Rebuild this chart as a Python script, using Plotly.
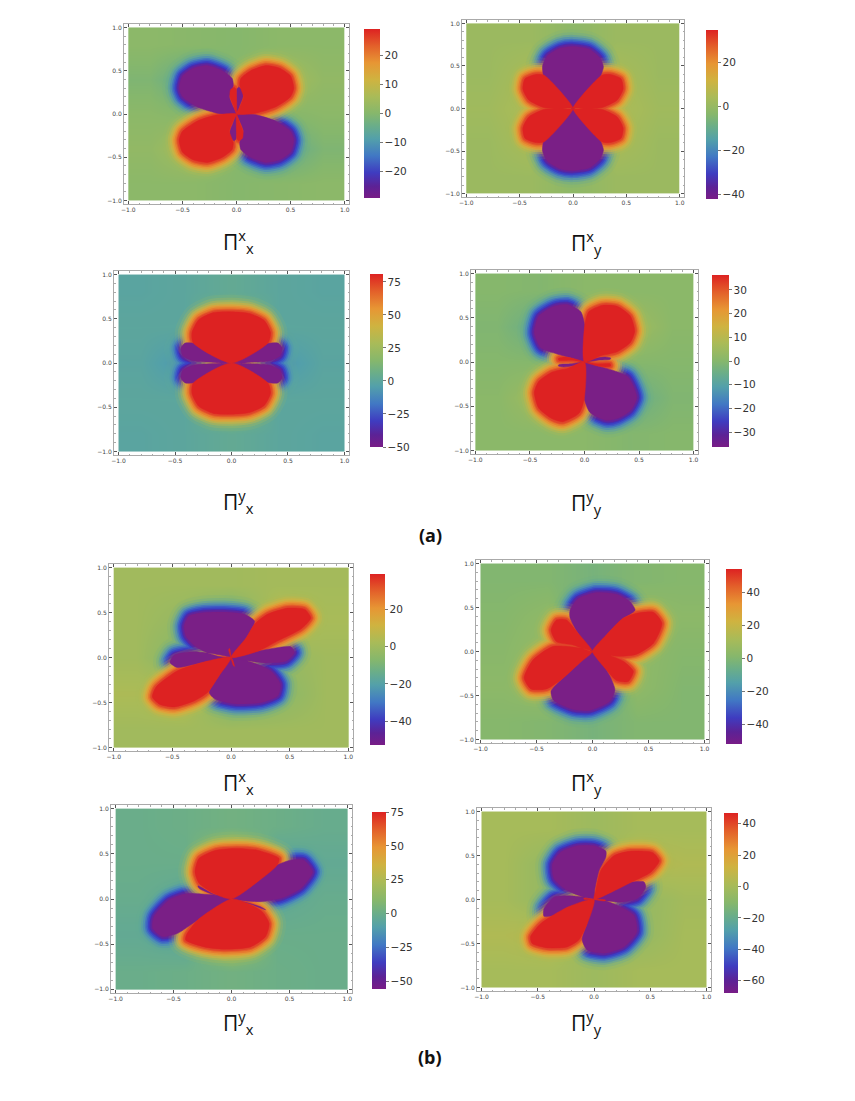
"""Eight Pi tensor component maps with separate colour bars."""

import plotly.graph_objects as go

PAGE_MARGIN = 8  # the browser's default body margin
WIDTH, HEIGHT = 855 - PAGE_MARGIN, 1101 - PAGE_MARGIN
GRID_EDGES = [-1.0, -0.6, -0.2, 0.2, 0.6, 1.0]
AXIS_TICKS = [-1.0, -0.5, 0.0, 0.5, 1.0]

RAINBOW = [
    [0.0, "#781c86"], [0.07, "#5c2296"], [0.15, "#3f3cc0"], [0.25, "#4178c4"],
    [0.35, "#53a0aa"], [0.43, "#6bae88"], [0.5, "#86b76c"], [0.6, "#a9bb58"],
    [0.7, "#cfb340"], [0.8, "#e79634"], [0.9, "#e3602a"], [1.0, "#dd2222"],
]

# background field, rows from y=-0.8 up to y=0.8
BG_1 = [[1, 1, 0, 0.5, 1], [2, 6, 0, -6, -1], [1, 0, 0, 0, 1], [-1, -6, 0, 6, 2], [1, 0.5, 0, 1, 1]]
BG_2 = [[1, 1, -2, 1, 1], [1, 4, -12, 4, 1], [2, 5, 0, 5, 2], [1, 4, -12, 4, 1], [1, 1, -2, 1, 1]]
BG_3 = [[-1, 0, 3, 0, -1], [0, 0, 22, 0, 0], [-1, -8, 0, -8, -1], [0, 0, 22, 0, 0], [-1, 0, 3, 0, -1]]
BG_4 = [[1, 1, 1, -0.5, 0], [1, 6, 0, -6, -1], [0, 0, 0, 0, 0], [-1, -6, 0, 6, 1], [0, -0.5, 1, 1, 1]]
BG_5 = [[0, 0, 0, 0, 0], [3, 6, -12, -6, 0], [0, -8, 0, -3, 0], [0, -3, -12, 6, 2], [0, 0, 0, 1, 1]]
BG_6 = [[1, 0, -3, 0, 0], [3, 6, -12, 4, 0], [2, 6, 0, 4, 1], [1, 4, -12, 6, 3], [0, 0, -3, 0, 1]]
BG_7 = [[0, 1, 3, 1, 0], [-3, -6, 24, 0, 0], [-1, -4, 0, -4, -1], [0, 0, 24, -6, -3], [0, 1, 3, 1, -1]]
BG_8 = [[0, 0, -3, 0, 0], [3, 6, -8, -6, 0], [0, -6, 0, -6, -1], [0, -6, -8, 6, 3], [0, 0, -3, 0, 0]]

# lobe outlines, (x, y) in axis units
RED_1 = [
    [(0, 0), (.18, .01), (.36, .08), (.5, .2), (.53, .3), (.5, .44), (.4, .53), (.27, .56), (.13, .5), (.04, .41), (.03, .33), (.065, .2), (.03, .08), (0, 0)],
    [(0, 0), (-.18, -.01), (-.36, -.08), (-.5, -.2), (-.53, -.3), (-.5, -.44), (-.4, -.53), (-.27, -.56), (-.13, -.5), (-.04, -.41), (-.03, -.33), (-.065, -.2), (-.03, -.08), (0, 0)],
    [(0, 0), (-.03, .1), (-.06, .2), (-.055, .28), (-.02, .31), (-.005, .29), (0, .2), (0, 0)],
    [(0, 0), (.03, -.1), (.06, -.2), (.055, -.28), (.02, -.31), (.005, -.29), (0, -.2), (0, 0)],
]
PURPLE_1 = [
    [(0, 0), (-.18, .01), (-.36, .08), (-.5, .2), (-.53, .3), (-.5, .44), (-.4, .53), (-.27, .56), (-.13, .5), (-.04, .41), (-.03, .33), (-.065, .2), (-.03, .08), (0, 0)],
    [(0, 0), (.18, -.01), (.36, -.08), (.5, -.2), (.53, -.3), (.5, -.44), (.4, -.53), (.27, -.56), (.13, -.5), (.04, -.41), (.03, -.33), (.065, -.2), (.03, -.08), (0, 0)],
    [(0, 0), (.03, .1), (.06, .2), (.055, .28), (.02, .31), (.005, .29), (0, .2), (0, 0)],
    [(0, 0), (-.03, -.1), (-.06, -.2), (-.055, -.28), (-.02, -.31), (-.005, -.29), (0, -.2), (0, 0)],
]
RED_2 = [
    [(0, 0), (-.27, .39), (-.35, .4), (-.45, .35), (-.47, .23), (-.415, .1), (-.275, .012), (-.12, 0), (0, 0)],
    [(0, 0), (.27, .39), (.35, .4), (.45, .35), (.47, .23), (.415, .1), (.275, .012), (.12, 0), (0, 0)],
    [(0, 0), (-.27, -.39), (-.35, -.4), (-.45, -.35), (-.47, -.23), (-.415, -.1), (-.275, -.012), (-.12, 0), (0, 0)],
    [(0, 0), (.27, -.39), (.35, -.4), (.45, -.35), (.47, -.23), (.415, -.1), (.275, -.012), (.12, 0), (0, 0)],
]
PURPLE_2 = [
    [(0, 0), (-.13, .17), (-.275, .39), (-.285, .5), (-.24, .62), (-.12, .71), (0, .73), (.15, .7), (.25, .6), (.285, .49), (.26, .39), (0, 0)],
    [(0, 0), (-.13, -.17), (-.275, -.39), (-.285, -.5), (-.24, -.62), (-.12, -.71), (0, -.73), (.15, -.7), (.25, -.6), (.285, -.49), (.26, -.39), (0, 0)],
]
RED_3 = [
    [(0, 0), (-.34, .23), (-.35, .345), (-.29, .49), (-.16, .57), (0, .58), (.16, .56), (.29, .48), (.345, .345), (.325, .23), (0, 0)],
    [(0, 0), (-.34, -.23), (-.35, -.345), (-.29, -.49), (-.16, -.57), (0, -.58), (.16, -.56), (.29, -.48), (.345, -.345), (.325, -.23), (0, 0)],
]
PURPLE_3 = [
    [(0, 0), (-.325, .22), (-.41, .225), (-.447, .17), (-.43, .08), (-.34, .026), (-.16, .007), (0, 0)],
    [(0, 0), (.325, .22), (.41, .225), (.447, .17), (.43, .08), (.34, .026), (.16, .007), (0, 0)],
    [(0, 0), (-.325, -.22), (-.41, -.225), (-.447, -.17), (-.43, -.08), (-.34, -.026), (-.16, -.007), (0, 0)],
    [(0, 0), (.325, -.22), (.41, -.225), (.447, -.17), (.43, -.08), (.34, -.026), (.16, -.007), (0, 0)],
]
RED_4 = [
    [(0, 0), (.15, .07), (.3, .115), (.42, .22), (.46, .35), (.42, .52), (.3, .63), (.16, .64), (.04, .57), (.003, .42), (0, 0)],
    [(0, 0), (-.15, -.07), (-.3, -.115), (-.42, -.22), (-.46, -.345), (-.42, -.52), (-.3, -.64), (-.2, -.675), (-.05, -.58), (-.003, -.42), (0, 0)],
    [(0, 0), (-.12, .02), (-.235, .02), (-.24, .04), (-.2, .055), (-.12, .045), (0, 0)],
    [(0, 0), (.12, -.02), (.235, -.02), (.24, -.045), (.2, -.055), (.12, -.045), (0, 0)],
]
PURPLE_4 = [
    [(0, 0), (-.13, .05), (-.25, .09), (-.4, .16), (-.46, .33), (-.42, .52), (-.28, .63), (-.16, .65), (-.035, .57), (0, .42), (-.005, .16), (0, 0)],
    [(0, 0), (.13, -.05), (.25, -.09), (.4, -.17), (.48, -.4), (.42, -.55), (.3, -.64), (.2, -.66), (.05, -.57), (0, -.42), (.005, -.16), (0, 0)],
    [(0, 0), (.12, .02), (.235, .03), (.24, .045), (.2, .055), (.12, .045), (0, 0)],
    [(0, 0), (-.12, -.02), (-.235, -.03), (-.24, -.045), (-.2, -.055), (-.12, -.045), (0, 0)],
]
RED_5 = [
    [(0, 0), (.23, .07), (.4, .185), (.6, .32), (.68, .44), (.63, .535), (.485, .55), (.31, .48), (.2, .37), (.13, .22), (0, 0)],
    [(0, 0), (-.23, -.05), (-.46, -.15), (-.64, -.33), (-.67, -.44), (-.61, -.52), (-.485, -.55), (-.31, -.48), (-.2, -.39), (-.1, -.2), (0, 0)],
    [(0, 0), (-.02, .09), (-.012, .1), (0, 0)],
    [(0, 0), (.02, -.09), (.03, -.1), (.012, -.02), (0, 0)],
]
PURPLE_5 = [
    [(0, 0), (-.2, .05), (-.31, .13), (-.385, .24), (-.4, .35), (-.36, .46), (-.23, .5), (-.06, .505), (.115, .48), (.2, .405), (.13, .22), (0, 0)],
    [(0, 0), (-.2, .05), (-.34, .063), (-.485, .026), (-.52, -.055), (-.46, -.11), (-.23, -.05), (0, 0)],
    [(0, 0), (.23, .07), (.51, .12), (.54, .055), (.47, -.04), (.29, -.06), (.14, -.035), (0, 0)],
    [(0, 0), (.17, -.05), (.34, -.15), (.42, -.295), (.4, -.425), (.26, -.5), (.03, -.515), (-.14, -.46), (-.185, -.39), (-.1, -.2), (0, 0)],
]
RED_6 = [
    [(0, 0), (.125, .19), (.275, .38), (.395, .435), (.545, .445), (.62, .32), (.545, .095), (.395, -.03), (.245, -.055), (.1, -.03), (0, 0)],
    [(0, 0), (-.145, .045), (-.355, .057), (-.53, -.095), (-.61, -.3), (-.55, -.425), (-.41, -.425), (-.26, -.3), (-.115, -.13), (0, 0)],
    [(0, 0), (-.175, .075), (-.32, .11), (-.37, .245), (-.32, .36), (-.235, .36), (-.13, .21), (0, 0)],
    [(0, 0), (.125, -.03), (.275, -.11), (.365, -.225), (.32, -.34), (.215, -.33), (.125, -.21), (0, 0)],
]
PURPLE_6 = [
    [(0, 0), (-.2, .38), (-.2, .47), (-.13, .6), (.035, .67), (.215, .65), (.335, .565), (.38, .47), (.275, .38), (.125, .19), (0, 0)],
    [(0, 0), (-.115, -.13), (-.26, -.3), (-.37, -.45), (-.35, -.55), (-.17, -.66), (-.025, -.67), (.155, -.565), (.2, -.435), (.155, -.28), (0, 0)],
]
RED_7 = [
    [(0, 0), (-.15, .06), (-.28, .175), (-.315, .3), (-.28, .45), (-.135, .54), (.05, .56), (.225, .54), (.41, .45), (.395, .375), (.225, .19), (0, 0)],
    [(0, 0), (-.29, -.23), (-.39, -.4), (-.395, -.455), (-.235, -.53), (-.065, -.555), (.165, -.53), (.295, -.415), (.325, -.27), (.265, -.14), (.14, -.05), (0, 0)],
]
PURPLE_7 = [
    [(0, 0), (.225, .19), (.395, .375), (.51, .43), (.625, .43), (.7, .3), (.6, .12), (.425, .007), (.25, -.03), (.11, -.018), (0, 0)],
    [(0, 0), (-.38, .06), (-.54, -.01), (-.67, -.195), (-.68, -.325), (-.595, -.415), (-.465, -.38), (-.29, -.23), (0, 0)],
    [(0, 0), (-.15, .05), (-.29, .145), (-.28, .118), (-.18, .06), (0, 0)],
    [(0, 0), (.15, -.05), (.295, -.12), (.25, -.085), (0, 0)],
]
RED_8 = [
    [(0, 0), (.15, .08), (.33, .195), (.505, .31), (.58, .44), (.52, .535), (.33, .55), (.18, .5), (.06, .33), (.015, .1), (0, 0)],
    [(0, 0), (-.24, -.09), (-.475, -.275), (-.565, -.425), (-.55, -.5), (-.415, -.55), (-.24, -.54), (-.135, -.46), (-.06, -.275), (0, 0)],
    [(0, 0), (-.09, .015), (-.09, .004), (0, 0)],
    [(0, 0), (.1, -.004), (.1, -.016), (0, 0)],
]
PURPLE_8 = [
    [(0, 0), (-.135, .045), (-.25, .11), (-.355, .235), (-.37, .4), (-.3, .535), (-.15, .61), (0, .61), (.105, .55), (.105, .48), (.045, .33), (.005, .1), (0, 0)],
    [(0, 0), (.15, .08), (.33, .195), (.445, .2), (.46, .14), (.385, .01), (.24, -.03), (.09, -.01), (0, 0)],
    [(0, 0), (-.18, .04), (-.355, .026), (-.445, -.105), (-.445, -.19), (-.355, -.18), (-.24, -.09), (0, 0)],
    [(0, 0), (-.06, -.275), (-.105, -.46), (-.06, -.575), (.09, -.61), (.265, -.54), (.38, -.37), (.355, -.18), (.18, -.05), (0, 0)],
]

Z_RANGES = [(-29, 29), (-42, 34.7), (-50, 81), (-36.3, 36.3), (-52.6, 38.7), (-52, 54), (-55.6, 75), (-67.8, 46.8)]
BAR_TICKS = [
    [-20, -10, 0, 10, 20], [-40, -20, 0, 20], [-50, -25, 0, 25, 50, 75], [-30, -20, -10, 0, 10, 20, 30],
    [-40, -20, 0, 20], [-40, -20, 0, 20, 40], [-50, -25, 0, 25, 50, 75], [-60, -40, -20, 0, 20, 40],
]
TITLES = [
    "Π<sup>x</sup><sub>x</sub>", "Π<sup>x</sup><sub>y</sub>", "Π<sup>y</sup><sub>x</sub>", "Π<sup>y</sup><sub>y</sub>",
    "Π<sup>x</sup><sub>x</sub>", "Π<sup>x</sup><sub>y</sub>", "Π<sup>y</sup><sub>x</sub>", "Π<sup>y</sup><sub>y</sub>",
]
BGS = [BG_1, BG_2, BG_3, BG_4, BG_5, BG_6, BG_7, BG_8]
REDS = [RED_1, RED_2, RED_3, RED_4, RED_5, RED_6, RED_7, RED_8]
PURPLES = [PURPLE_1, PURPLE_2, PURPLE_3, PURPLE_4, PURPLE_5, PURPLE_6, PURPLE_7, PURPLE_8]

# layout in page pixels: axes frame (left, right, top, bottom), colour bar, title centre
FRAMES = [
    (124, 349, 24, 204), (462, 684, 20, 197), (114, 349, 271, 455), (471, 698, 270, 454),
    (109, 353, 564, 751), (476, 709, 560, 743), (111, 352, 805, 993), (477, 711, 808, 991),
]
BARS = [
    (364, 380, 29, 198), (706, 718, 30, 199), (370, 383, 274, 447), (712, 729, 275, 447),
    (370, 385, 574, 745), (726, 742, 569, 744), (372, 386, 812, 989), (724, 738, 813, 993),
]
TITLE_POS = [(238, 241), (586, 242), (239, 502), (586, 503), (238, 782), (586, 782), (239, 1022), (586, 1022)]
CAPTIONS = [("(a)", 430, 535), ("(b)", 430, 1057)]

RED_GLOW = [
    (34, "#a9bb58", .12), (28, "#b8ba50", .22), (23, "#c9b646", .38), (19, "#d6b13f", .52), (15, "#e3a238", .68),
    (12, "#e79034", .78), (9, "#e7782e", .85), (6, "#e45f2a", .9), (4, "#e0452a", .95),
]
PURPLE_GLOW = [
    (34, "#62ab96", .12), (28, "#58a3a4", .22), (23, "#4f94b5", .38), (19, "#4684c0", .52), (15, "#3f6cc6", .68),
    (12, "#3c54c8", .78), (9, "#3c3cc4", .85), (6, "#4a2cb0", .9), (4, "#62249c", .95),
]
SMOOTHING = 0.65


def page_x(px):
    return (px - PAGE_MARGIN) / WIDTH


def page_y(px):
    return 1 - (px - PAGE_MARGIN) / HEIGHT


def outline(lobes):
    xs, ys = [], []
    for lobe in lobes:
        xs += [p[0] for p in lobe] + [None]
        ys += [p[1] for p in lobe] + [None]
    return xs, ys


fig = go.Figure()
layout_axes = {}
for i in range(8):
    left, right, top, bottom = FRAMES[i]
    suffix = "" if i == 0 else str(i + 1)
    xref, yref = f"x{suffix}", f"y{suffix}"
    axis = dict(
        range=[-1.04, 1.04], tickvals=AXIS_TICKS, tickformat=".1f", ticks="inside", ticklen=3,
        tickcolor="#555555", tickwidth=1, showgrid=False, zeroline=False, showline=True, mirror="ticks",
        linecolor="#aaaaaa", linewidth=1, tickfont=dict(family="DejaVu Sans", size=6, color="#444444"),
        minor=dict(ticks="inside", dtick=0.1, ticklen=1.5, tickcolor="#aaaaaa", showgrid=False),
    )
    layout_axes[f"xaxis{suffix}"] = dict(axis, domain=[page_x(left), page_x(right)], anchor=yref)
    layout_axes[f"yaxis{suffix}"] = dict(axis, domain=[page_y(bottom), page_y(top)], anchor=xref)

    bx0, bx1, by0, by1 = BARS[i]
    fig.add_trace(go.Heatmap(
        x=GRID_EDGES, y=GRID_EDGES, z=BGS[i], zmin=Z_RANGES[i][0], zmax=Z_RANGES[i][1], zsmooth="best",
        colorscale=RAINBOW, hoverinfo="skip", xaxis=xref, yaxis=yref,
        colorbar=dict(
            x=page_x(bx0), xanchor="left", y=page_y(by0), yanchor="top", thickness=bx1 - bx0,
            len=by1 - by0, lenmode="pixels", xpad=0, ypad=0, outlinewidth=0,
            tickvals=BAR_TICKS[i], ticks="outside", ticklen=3, tickcolor="#777777",
            tickfont=dict(family="DejaVu Sans", size=10.5, color="#333333"),
        ),
    ))
    for lobes, glow in ((PURPLES[i], PURPLE_GLOW), (REDS[i], RED_GLOW)):
        xs, ys = outline(lobes)
        for width, color, alpha in glow:
            fig.add_trace(go.Scatter(
                x=xs, y=ys, mode="lines", line=dict(color=color, width=width, shape="spline", smoothing=SMOOTHING),
                opacity=alpha, hoverinfo="skip", showlegend=False, xaxis=xref, yaxis=yref,
            ))
    for lobes, color in ((PURPLES[i], "#7a1f86"), (REDS[i], "#dd2222")):
        xs, ys = outline(lobes)
        fig.add_trace(go.Scatter(
            x=xs, y=ys, mode="lines", fill="toself", fillcolor=color,
            line=dict(color=color, width=0.5, shape="spline", smoothing=SMOOTHING),
            hoverinfo="skip", showlegend=False, xaxis=xref, yaxis=yref,
        ))

annotations = [
    dict(x=page_x(x), y=page_y(y), xref="paper", yref="paper", text=text, showarrow=False,
         xanchor="center", yanchor="middle", font=dict(family="Open Sans", size=21, color="#111111"))
    for text, (x, y) in zip(TITLES, TITLE_POS)
]
annotations += [
    dict(x=page_x(x), y=page_y(y), xref="paper", yref="paper", text=f"<b>{text}</b>", showarrow=False,
         xanchor="center", yanchor="middle", font=dict(family="Open Sans", size=18, color="#111111"))
    for text, x, y in CAPTIONS
]
fig.update_layout(
    width=WIDTH, height=HEIGHT, margin=dict(l=0, r=0, t=0, b=0, autoexpand=False),
    paper_bgcolor="white", plot_bgcolor="white", annotations=annotations, **layout_axes,
)
fig.write_html("out.html")
